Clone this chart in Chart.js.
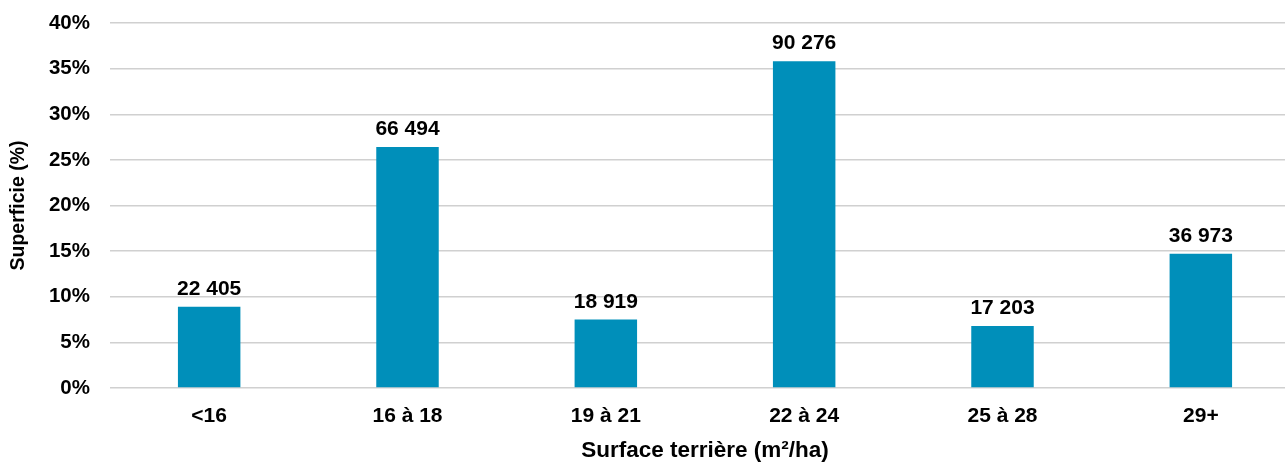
<!DOCTYPE html>
<html>
<head>
<meta charset="utf-8">
<script src="https://cdn.jsdelivr.net/npm/chart.js@4"></script>
<style>
  html, body { margin: 0; padding: 0; background: #fff; overflow: hidden; }
  #wrap { width: 1300px; height: 466px; position: relative; }
</style>
</head>
<body>
<div id="wrap"><canvas id="chart"></canvas></div>
<script>
// catégories de surface terrière
const categories = ['<16', '16 à 18', '19 à 21', '22 à 24', '25 à 28', '29+'];
// superficie en %
const superficiePct = [8.9, 26.4, 7.5, 35.8, 6.8, 14.7];
// superficie en hectares (étiquettes au-dessus des barres)
const superficieHa = [22405, 66494, 18919, 90276, 17203, 36973];
// graduations de l'axe Y
const yTicks = [0, 5, 10, 15, 20, 25, 30, 35, 40];

const FONT = "'Liberation Sans', Arial, sans-serif";

// formatage avec espace comme séparateur des milliers
function formatNombre(n) {
  return String(n).replace(/\B(?=(\d{3})+(?!\d))/g, ' ');
}

// étiquettes de valeur au-dessus des barres
const etiquettesPlugin = {
  id: 'etiquettes',
  afterDatasetsDraw(chart) {
    const ctx = chart.ctx;
    const meta = chart.getDatasetMeta(0);
    ctx.save();
    ctx.font = 'bold 21px ' + FONT;
    ctx.fillStyle = '#000';
    ctx.textAlign = 'center';
    ctx.textBaseline = 'alphabetic';
    meta.data.forEach((bar, i) => {
      ctx.fillText(formatNombre(superficieHa[i]), bar.x, bar.y - 12);
    });
    ctx.restore();
  }
};

new Chart(document.getElementById('chart'), {
  type: 'bar',
  data: {
    labels: categories,
    datasets: [{
      data: superficiePct,
      backgroundColor: '#008FBA',
      categoryPercentage: 1,
      barPercentage: 0.315
    }]
  },
  options: {
    responsive: true,
    maintainAspectRatio: false,
    animation: false,
    layout: { autoPadding: false, padding: { top: 23, right: 0, bottom: 0, left: 0 } },
    plugins: {
      legend: { display: false },
      tooltip: { enabled: false }
    },
    scales: {
      x: {
        grid: { display: false },
        border: { display: false },
        ticks: {
          color: '#000',
          font: { family: FONT, size: 21, weight: 'bold' },
          padding: 8,
          maxRotation: 0
        },
        title: {
          display: true,
          text: 'Surface terrière (m²/ha)',
          color: '#000',
          font: { family: FONT, size: 22.5, weight: 'bold' },
          padding: { top: 0, bottom: 2 }
        },
        afterFit(scale) { scale.height = 78; }
      },
      y: {
        min: 0,
        max: 40,
        afterBuildTicks(scale) {
          scale.ticks = yTicks.map(v => ({ value: v }));
        },
        grid: { color: '#d0d0d0', lineWidth: 1.5, drawTicks: false },
        border: { display: false },
        ticks: {
          color: '#000',
          font: { family: FONT, size: 20.5, weight: 'bold' },
          padding: 20,
          callback: v => v + '%'
        },
        title: {
          display: true,
          text: 'Superficie (%)',
          color: '#000',
          font: { family: FONT, size: 19.5, weight: 'bold' },
          padding: { top: 7, bottom: 0 }
        },
        afterFit(scale) {
          scale.width = 110;
          scale.paddingTop = 0;
          scale.paddingBottom = 0;
        }
      }
    }
  },
  plugins: [etiquettesPlugin]
});
</script>
</body>
</html>
